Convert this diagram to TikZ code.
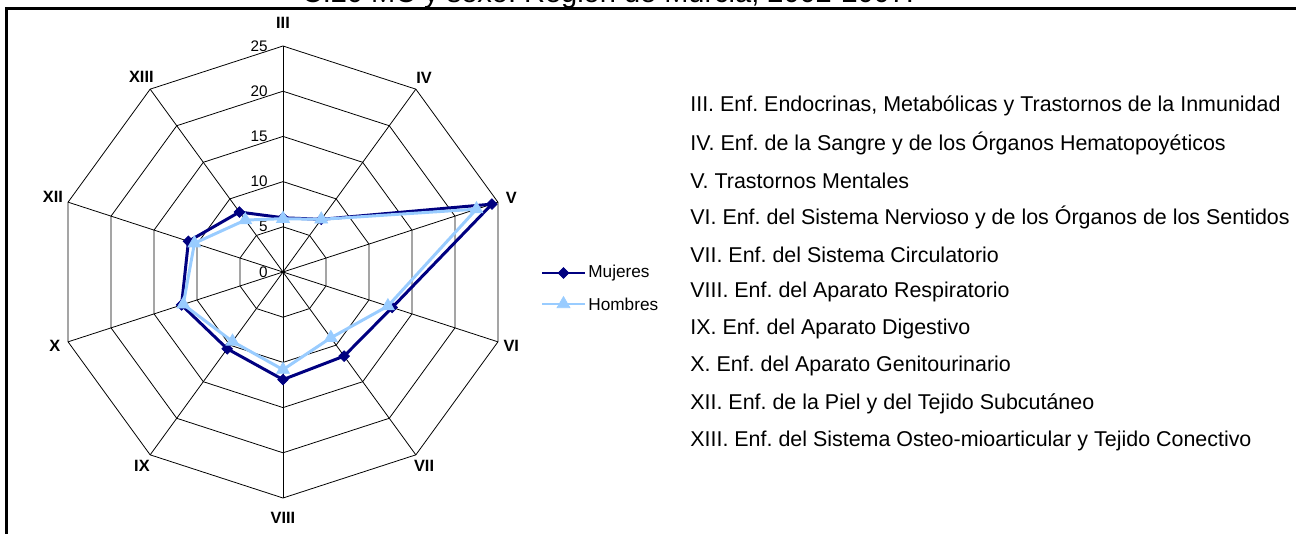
\documentclass[tikz,border=0pt]{standalone}
\usepackage{fontspec}
\setmainfont{Liberation Sans}
\usetikzlibrary{shapes.geometric,calc}
\definecolor{muj}{HTML}{000080}
\definecolor{hom}{HTML}{99CCFF}
\tikzset{
  rejilla/.style={black, line width=0.45pt},
  eje/.style={font=\fontsize{9.3}{11}\selectfont\bfseries, inner sep=0pt},
  escala/.style={font=\fontsize{8.7}{10}\selectfont, inner sep=0pt, anchor=east},
  serieM/.style={muj, line width=1.7pt, line join=round},
  serieH/.style={hom, line width=1.7pt, line join=round},
  marcaM/.style={diamond, fill=muj, draw=muj, inner sep=0pt, minimum size=6.2pt},
  marcaH/.style={regular polygon, regular polygon sides=3, fill=hom, draw=hom, inner sep=0pt, minimum size=8.5pt},
  leyenda/.style={font=\fontsize{9.8}{11}\selectfont, inner sep=0pt, anchor=west},
  item/.style={font=\fontsize{12.2}{14}\selectfont, inner sep=0pt, anchor=west},
  titulo/.style={font=\fontsize{16.5}{18}\selectfont, inner sep=0pt, anchor=base}
}
\begin{document}
\frenchspacing
\begin{tikzpicture}[x=0.02cm, y=0.02cm]
	\useasboundingbox (0,0) rectangle (1296,-534);
	% Titulo (cortado arriba)
		\node[titulo] (tit) at (608,-2.5) {C.20 MC y sexo. Región de Murcia, 2002-2007.};
	% Marco
		\draw[line width=1.4pt] (6.5,-534) -- (6.5,-8.5) -- (1296,-8.5);

	% Gráfico radial
	\begin{scope}[shift={(283,-272)}]
		% Rejilla
			\foreach \r in {1,...,5}
				\draw[rejilla] (90:{45.2*\r}) \foreach \k in {1,...,9}{ -- ({90-36*\k}:{45.2*\r})} -- cycle;
			\foreach \k in {0,...,9}
				\draw[rejilla] (0,0) -- ({90-36*\k}:226);
		% Escala
			\foreach \v [count=\i from 0] in {0,5,10,15,20,25}
				\node[escala] (esc\i) at (-15,{45.2*\i}) {\v};
		% Ejes
			\foreach \n/\a/\d [count=\i] in {III/90/249, IV/54/240, V/18/240, VI/-18/240, VII/-54/240, VIII/-90/246, IX/-126/240, X/-162/240, XII/162/242, XIII/126/241}
				\node[eje] (eje\i) at (\a:\d) {\n};

		% Mujeres
			\foreach \v [count=\i] in {6.0,7.2,24.3,12.7,11.5,11.9,10.5,11.8,11.0,8.2}
				\coordinate (m\i) at ({90-36*(\i-1)}:{9.04*\v});
			\draw[serieM] (m1) -- (m2) -- (m3) -- (m4) -- (m5) -- (m6) -- (m7) -- (m8) -- (m9) -- (m10) -- cycle;
			\foreach \i in {1,...,10}
				\node[marcaM] (pm\i) at (m\i) {};
		% Hombres
			\foreach \v [count=\i] in {5.9,7.2,22.5,12.2,9.0,10.8,9.5,11.6,10.3,7.1}
				\coordinate (h\i) at ({90-36*(\i-1)}:{9.04*\v});
			\draw[serieH] (h1) -- (h2) -- (h3) -- (h4) -- (h5) -- (h6) -- (h7) -- (h8) -- (h9) -- (h10) -- cycle;
			\foreach \i in {1,...,10}
				\node[marcaH] (ph\i) at (h\i) {};
	\end{scope}

	% Leyenda
		\coordinate (lm1) at (542,-273);
		\coordinate (lm2) at (585,-273);
		\coordinate (lh1) at (542,-304);
		\coordinate (lh2) at (585,-304);
		\draw[serieM] (lm1) -- (lm2);
		\node[marcaM] (dm) at ($(lm1)!0.5!(lm2)$) {};
		\node[leyenda] (txtM) at (588,-273) {Mujeres};
		\draw[serieH] (lh1) -- (lh2);
		\node[marcaH] (dh) at ($(lh1)!0.5!(lh2)$) {};
		\node[leyenda] (txtH) at (588,-304) {Hombres};

	% Lista de grupos
		\foreach \t [count=\i] in {{III. Enf. Endocrinas, Metabólicas y Trastornos de la Inmunidad},
			{IV. Enf. de la Sangre y de los Órganos Hematopoyéticos},
			{V. Trastornos Mentales},
			{VI. Enf. del Sistema Nervioso y de los Órganos de los Sentidos},
			{VII. Enf. del Sistema Circulatorio},
			{VIII. Enf. del Aparato Respiratorio},
			{IX. Enf. del Aparato Digestivo},
			{X. Enf. del Aparato Genitourinario},
			{XII. Enf. de la Piel y del Tejido Subcutáneo},
			{XIII. Enf. del Sistema Osteo-mioarticular y Tejido Conectivo}}
			\node[item] (it\i) at (690,{-106-37.2*(\i-1)}) {\t};
\end{tikzpicture}
\end{document}
